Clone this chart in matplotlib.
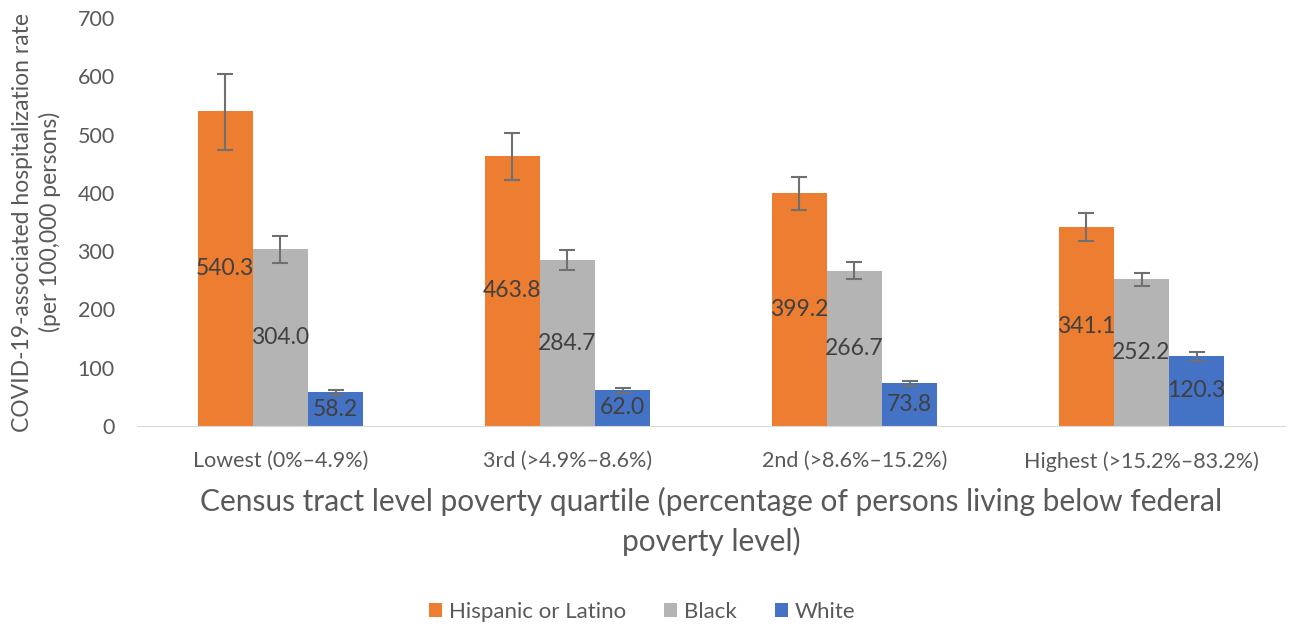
import matplotlib.pyplot as plt
import numpy as np

plt.rcParams['font.family'] = ['Lato', 'DejaVu Sans']

categories = ['Lowest (0%–4.9%)', '3rd (>4.9%–8.6%)', '2nd (>8.6%–15.2%)', 'Highest (>15.2%–83.2%)']
series = ['Hispanic or Latino', 'Black', 'White']
hispanic = [540.3, 463.8, 399.2, 341.1]
black = [304.0, 284.7, 266.7, 252.2]
white = [58.2, 62.0, 73.8, 120.3]
# confidence interval bounds
hispanic_lo = [473, 422, 370, 317]
hispanic_hi = [605, 503, 427, 365]
black_lo = [280, 267, 252, 240]
black_hi = [326, 302, 281, 263]
white_lo = [54, 57, 69, 112]
white_hi = [61, 66, 78, 127]

colors = ['#ED7D31', '#B4B4B4', '#4472C4']
values = [hispanic, black, white]
lows = [hispanic_lo, black_lo, white_lo]
highs = [hispanic_hi, black_hi, white_hi]

fig = plt.figure(figsize=(12.92, 6.26), dpi=100)
ax = fig.add_axes([0.106, 0.3195, 0.8886, 0.6515])

x = np.arange(len(categories))
w = 0.192
for i, (name, vals, lo, hi, c) in enumerate(zip(series, values, lows, highs, colors)):
    pos = x + (i - 1) * w
    vals = np.array(vals)
    yerr = [vals - np.array(lo), np.array(hi) - vals]
    ax.bar(pos, vals, w, color=c, label=name)
    ax.errorbar(pos, vals, yerr=yerr, fmt='none', ecolor='#707070', elinewidth=1.5,
                capsize=6, capthick=1.5)
    for p, v in zip(pos, vals):
        ax.text(p, v / 2, f'{v:.1f}', ha='center', va='center', fontsize=16.5, color='#404040')

ax.set_xlim(-0.5, 3.5)
ax.set_ylim(0, 700)
ax.set_yticks(range(0, 701, 100))
ax.set_xticks(x)
ax.set_xticklabels(categories)
ax.tick_params(axis='both', length=0, labelsize=15.5, colors='#595959')
ax.tick_params(axis='x', pad=18)
ax.tick_params(axis='y', pad=16)
for s in ['top', 'right', 'left']:
    ax.spines[s].set_visible(False)
ax.spines['bottom'].set_color('#D9D9D9')

ax.set_ylabel('COVID-19-associated hospitalization rate\n(per 100,000 persons)',
              fontsize=16.5, color='#595959', labelpad=12, linespacing=1.3)
ax.set_xlabel('Census tract level poverty quartile (percentage of persons living below federal\npoverty level)',
              fontsize=21.5, color='#595959', labelpad=11, linespacing=1.45)

leg = fig.legend(loc='center', bbox_to_anchor=(0.497, 0.022), ncol=3, frameon=False,
                 fontsize=16, handlelength=0.6, handleheight=0.6, handletextpad=0.3,
                 columnspacing=1.7)
for t in leg.get_texts():
    t.set_color('#595959')

fig.savefig('out.png')
